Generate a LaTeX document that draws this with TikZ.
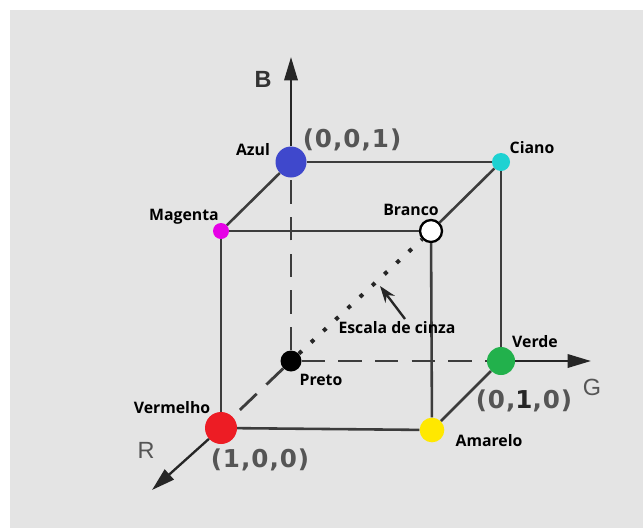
\documentclass[tikz,border=0pt]{standalone}
\usepackage{fontspec}
\usetikzlibrary{arrows.meta,calc}
\newfontfamily\lblfont{Open Sans}
\newfontfamily\axfont{Liberation Sans}
\newfontfamily\crdfont[LetterSpace=4]{DejaVu Sans}
\definecolor{bgray}{RGB}{228,228,228}
\definecolor{edgegray}{RGB}{60,60,60}
\definecolor{txtgray}{RGB}{85,85,85}
\definecolor{cazul}{RGB}{63,72,204}
\definecolor{cmag}{RGB}{230,0,230}
\definecolor{cciano}{RGB}{30,210,210}
\definecolor{cverde}{RGB}{34,177,76}
\definecolor{cverm}{RGB}{237,28,36}
\definecolor{camar}{RGB}{255,232,0}
\tikzset{
  vtx/.style={circle, inner sep=0pt},
  edg/.style={edgegray, line width=2.2pt},
  hid/.style={edgegray, line width=2.4pt, dash pattern=on 7mm off 4mm},
  gry/.style={black!85, line width=3.4pt, dash pattern=on 1.2mm off 3.8mm},
  axarr/.style={-{Triangle[length=7mm,width=4mm]}, black!85, line width=2pt},
  cinzaarr/.style={-{Stealth[length=5mm,width=3.5mm]}, black!85, line width=2pt},
  lbl/.style={font=\lblfont\bfseries\fontsize{13.5}{15}\selectfont, inner sep=0pt, anchor=base},
  axlbl/.style={font=\axfont\fontsize{20}{22}\selectfont, text=txtgray, inner sep=0pt, anchor=base},
  crd/.style={font=\crdfont\bfseries\fontsize{21}{24}\selectfont, text=txtgray, inner sep=0pt, anchor=base},
}

\begin{document}
\begin{tikzpicture}[x=0.03cm, y=-0.03cm]
  \useasboundingbox (0,0) rectangle (643,528);
  \fill[white] (0,0) rectangle (643,528);
  \fill[bgray] (10,10) rectangle (643,528);

  % cube corners
  \node[vtx, fill=black, minimum size=6.3mm] (preto) at (291,361) {};
  \node[vtx, fill=cazul, minimum size=9.3mm] (azul) at (291,162) {};
  \node[vtx, fill=cverde, minimum size=8.4mm] (verde) at (501,361) {};
  \node[vtx, fill=cverm, minimum size=9.6mm] (vermelho) at (221,428) {};
  \node[vtx, fill=cmag, minimum size=4.8mm] (magenta) at (221,231) {};
  \node[vtx, fill=cciano, minimum size=5.4mm] (ciano) at (501,162) {};
  \node[vtx, fill=white, draw=black, line width=2pt, minimum size=6.6mm] (branco) at (431,231) {};
  \node[vtx, fill=camar, minimum size=7.4mm] (amarelo) at (432,430) {};

  % axes
  \coordinate (btip) at (291,57);
  \coordinate (gtip) at (591,361);
  \coordinate (rtip) at (152,490);
  \draw[axarr] (azul) -- (btip);
  \draw[axarr] (verde) -- (gtip);
  \draw[axarr] (vermelho) -- (rtip);

  % edges
  \draw[edg] (vermelho) -- (magenta);
  \draw[edg] (vermelho) -- (amarelo);
  \draw[edg] (magenta) -- (branco);
  \draw[edg] (amarelo) -- (branco);
  \draw[edg] (azul) -- (ciano);
  \draw[edg] (ciano) -- (verde);
  \draw[edg] (magenta) -- (azul);
  \draw[edg] (branco) -- (ciano);
  \draw[edg] (amarelo) -- (verde);
  \draw[hid] (preto) -- (azul);
  \draw[hid] (preto) -- (verde);
  \draw[hid] (preto) -- (vermelho);
  \draw[gry] (preto) -- (branco);

  % labels
  \node[lbl] (azullbl) at (253,155) {Azul};
  \node[lbl] (magentalbl) at (184,220) {Magenta};
  \node[lbl] (brancolbl) at (411,215) {Branco};
  \node[lbl] (cianolbl) at (532,153) {Ciano};
  \node[lbl] (cinza) at (397,333) {Escala de cinza};
  \node[lbl] (pretolbl) at (321,385) {Preto};
  \node[lbl] (verdelbl) at (535,347) {Verde};
  \node[lbl] (amarelolbl) at (489,446) {Amarelo};
  \node[lbl] (vermelholbl) at (172,413) {Vermelho};

  \node[axlbl, text=black!80, font=\axfont\bfseries\fontsize{20}{22}\selectfont] (blbl) at (263,87) {B};
  \node[axlbl] (glbl) at (592,395) {G};
  \node[axlbl] (rlbl) at (146,458) {R};
  \node[crd] (azulcrd) at (352,147) {(0,0,1)};
  \node[crd] (verdecrd) at (524,408) {(0,\textcolor{black!85}{1},0)};
  \node[crd] (vermelhocrd) at (260,467) {(1,0,0)};

  % arrow to grey diagonal
  \coordinate (cinzatail) at (405,319);
  \coordinate (cinzatip) at (380,286);
  \draw[cinzaarr] (cinzatail) -- (cinzatip);
\end{tikzpicture}
\end{document}
